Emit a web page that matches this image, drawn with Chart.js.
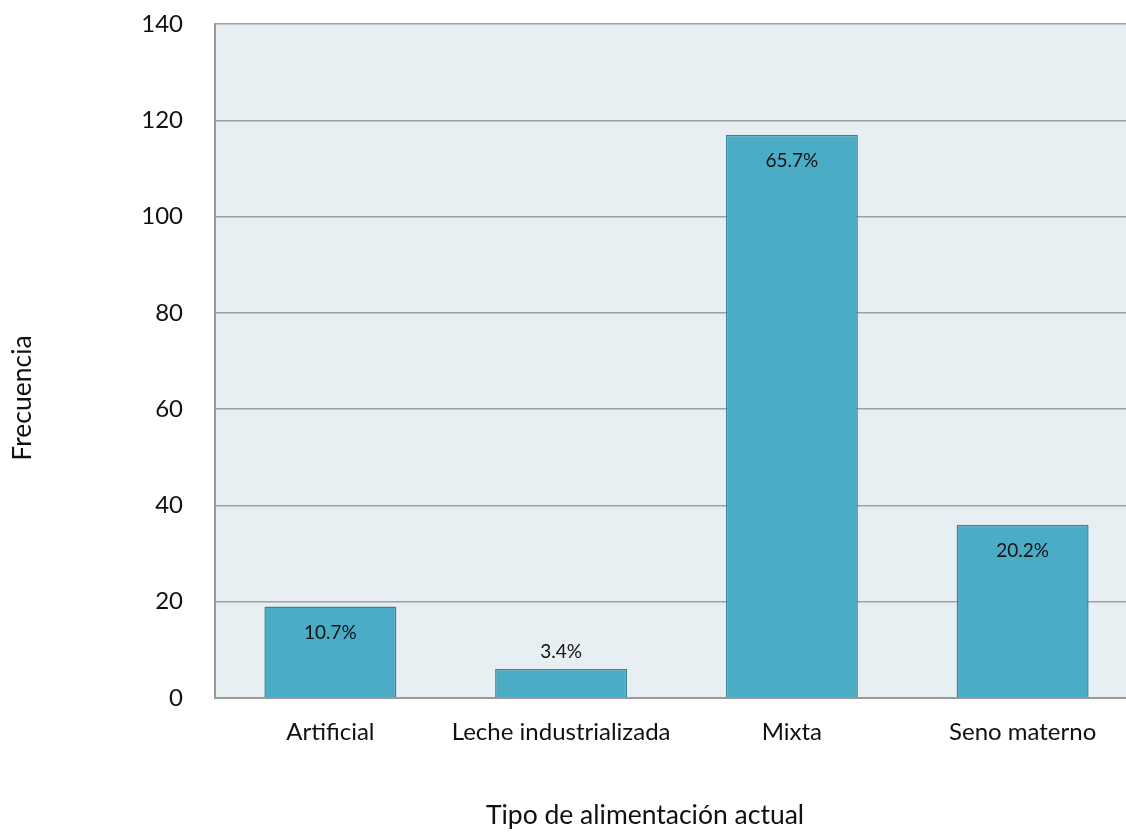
<!DOCTYPE html>
<html>
<head>
<meta charset="utf-8">
<script src="https://cdn.jsdelivr.net/npm/chart.js@4/dist/chart.umd.min.js"></script>
<style>
  html, body { margin: 0; padding: 0; overflow: hidden; background: #ffffff; }
  #wrap { width: 1138px; height: 833px; }
</style>
</head>
<body>
<div id="wrap"><canvas id="c" width="1138" height="833"></canvas></div>
<script>
// Tipo de alimentación actual — frecuencias por categoría
const categories = ['Artificial', 'Leche industrializada', 'Mixta', 'Seno materno'];
const frequencies = [19, 6, 117, 36];
const percentLabels = ['10.7%', '3.4%', '65.7%', '20.2%'];
const yTicks = [0, 20, 40, 60, 80, 100, 120, 140];

const FONT = 'Lato, "Open Sans", sans-serif';

// Light plot-area background
const plotBackground = {
  id: 'plotBackground',
  beforeDraw(chart) {
    const { ctx, chartArea: a } = chart;
    ctx.save();
    ctx.fillStyle = '#E8EFF3';
    ctx.fillRect(a.left, a.top, a.right - a.left, a.bottom - a.top);
    ctx.restore();
  }
};

// Percentage labels: inside the top of tall bars, above short ones
const barLabels = {
  id: 'barLabels',
  afterDatasetsDraw(chart) {
    const { ctx } = chart;
    const meta = chart.getDatasetMeta(0);
    ctx.save();
    ctx.font = '19px ' + FONT;
    ctx.fillStyle = '#111111';
    ctx.textAlign = 'center';
    ctx.textBaseline = 'middle';
    meta.data.forEach((bar, i) => {
      const h = bar.base - bar.y;
      const y = h > 45 ? bar.y + 26 : bar.y - 17;
      ctx.fillText(percentLabels[i], bar.x, y);
    });
    ctx.restore();
  }
};

// Axis titles
const axisTitles = {
  id: 'axisTitles',
  afterDraw(chart) {
    const { ctx } = chart;
    ctx.save();
    ctx.fillStyle = '#111111';
    ctx.textAlign = 'center';
    ctx.textBaseline = 'middle';
    ctx.font = '26.5px ' + FONT;
    ctx.fillText('Tipo de alimentación actual', 645, 815);
    ctx.translate(22, 398);
    ctx.rotate(-Math.PI / 2);
    ctx.fillText('Frecuencia', 0, 0);
    ctx.restore();
  }
};

new Chart(document.getElementById('c'), {
  type: 'bar',
  data: {
    labels: categories,
    datasets: [{
      data: frequencies,
      backgroundColor: '#4BACC6',
      borderColor: '#3A8299',
      borderWidth: 1.5,
      borderSkipped: 'bottom',
      barPercentage: 1,
      categoryPercentage: 0.572
    }]
  },
  options: {
    responsive: false,
    animation: false,
    devicePixelRatio: 1,
    layout: { padding: { top: 24, right: 0, bottom: 0, left: 0 } },
    plugins: {
      legend: { display: false },
      tooltip: { enabled: false }
    },
    scales: {
      x: {
        grid: { display: false, drawTicks: false },
        border: { display: true, color: '#9A9A9A', width: 2 },
        ticks: { color: '#111111', font: { family: FONT, size: 24 }, padding: 20, maxRotation: 0 },
        afterFit(scale) { scale.height = 135; scale.paddingLeft = 0; scale.paddingRight = 0; }
      },
      y: {
        min: 0,
        max: 140,
        afterBuildTicks(scale) { scale.ticks = yTicks.map(v => ({ value: v })); },
        grid: { color: '#A0A0A0', lineWidth: 1.5, drawTicks: false },
        border: { display: true, color: '#9A9A9A', width: 2 },
        ticks: { color: '#111111', font: { family: FONT, size: 24 }, padding: 32 },
        afterFit(scale) { scale.width = 215; scale.paddingTop = 0; scale.paddingBottom = 0; }
      }
    }
  },
  plugins: [plotBackground, barLabels, axisTitles]
});
</script>
</body>
</html>
